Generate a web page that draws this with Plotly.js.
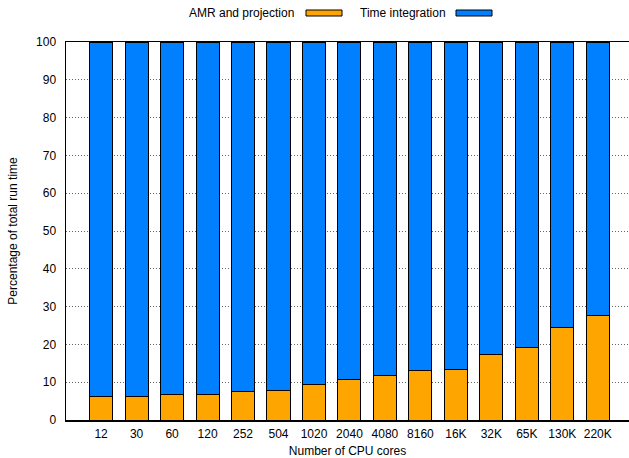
<!DOCTYPE html>
<html><head><meta charset="utf-8">
<script src="https://cdn.plot.ly/plotly-3.0.1.min.js"></script>
<style>html,body{margin:0;padding:0;background:#fff}#chart{width:629px;height:458px}</style>
</head><body><div id="chart"></div>
<script>
const cores = ["12","30","60","120","252","504","1020","2040","4080","8160","16K","32K","65K","130K","220K"];
const amrProjection = [6.2,6.3,6.7,6.8,7.6,7.7,9.3,10.8,11.8,13.0,13.3,17.3,19.1,24.5,27.6];
const timeIntegration = [93.8,93.7,93.3,93.2,92.4,92.3,90.7,89.2,88.2,87.0,86.7,82.7,80.9,75.5,72.4];
const seriesNames = ["AMR and projection","Time integration"];
const colors = ["#FFA500","#0080FF"];

const font = {family:"Liberation Sans, Arial, sans-serif", size:12, color:"#000"};
const traces = [amrProjection, timeIntegration].map((v,i)=>({
  type:"bar", x:cores, y:v, name:seriesNames[i], width:0.65,
  marker:{color:colors[i], line:{color:"#000", width:1}}, showlegend:false
}));
const W = 563, H = 378;
const layout = {
  width:629, height:458, font:font,
  margin:{l:66, r:0, t:42, b:38},
  paper_bgcolor:"#fff", plot_bgcolor:"#fff",
  barmode:"stack", showlegend:false,
  xaxis:{type:"category", range:[-0.99,14.88], showline:true, linecolor:"#000", linewidth:1.5, mirror:true,
    ticks:"", showgrid:false, tickfont:font, ticklabelstandoff:2,
    title:{text:"Number of CPU cores", font:font, standoff:6}},
  yaxis:{range:[0,100], dtick:10, showline:true, linecolor:"#000", linewidth:1.5, mirror:true,
    ticks:"", showgrid:true, gridcolor:"#666", griddash:"1px,2px", gridwidth:1,
    zeroline:false, tickfont:font, ticklabelstandoff:6,
    title:{text:"Percentage of total run time", font:font, standoff:16}},
  annotations:[
    {xref:"paper", yref:"paper", x:(296-66)/W, y:1+(42-13)/H, xanchor:"right", yanchor:"middle", text:seriesNames[0], showarrow:false, font:font},
    {xref:"paper", yref:"paper", x:(448-66)/W, y:1+(42-13)/H, xanchor:"right", yanchor:"middle", text:seriesNames[1], showarrow:false, font:font}
  ],
  shapes:[
    {type:"rect", xref:"paper", yref:"paper", x0:(306-66)/W, x1:(342-66)/W, y0:1+(42-16)/H, y1:1+(42-10)/H, fillcolor:colors[0], line:{color:"#000", width:1}},
    {type:"rect", xref:"paper", yref:"paper", x0:(456-66)/W, x1:(492-66)/W, y0:1+(42-16)/H, y1:1+(42-10)/H, fillcolor:colors[1], line:{color:"#000", width:1}}
  ]
};
Plotly.newPlot("chart", traces, layout, {displayModeBar:false, staticPlot:true});
</script></body></html>
